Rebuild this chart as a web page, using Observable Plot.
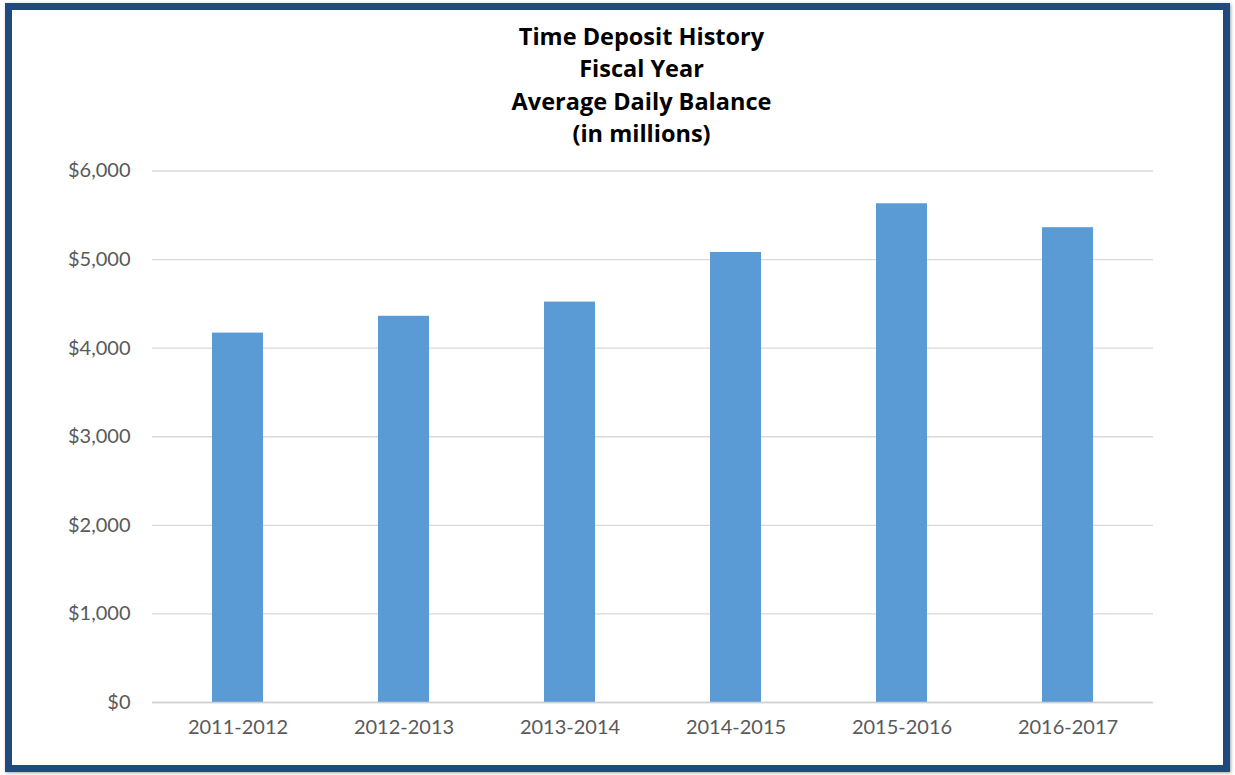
<!DOCTYPE html>
<html>
<head>
<meta charset="utf-8">
<script src="https://cdn.jsdelivr.net/npm/d3@7"></script>
<script src="https://cdn.jsdelivr.net/npm/@observablehq/plot@0.6"></script>
<style>
  html, body { margin: 0; padding: 0; background: #fff; }
  body { width: 1235px; height: 775px; position: relative; overflow: hidden; font-family: Lato, "Open Sans", sans-serif; }
  #frame { position: absolute; left: 5px; top: 3px; width: 1211px; height: 755px; border: 7px solid #1f4a7e; box-shadow: 1px 1px 3px rgba(0,0,0,0.35); }
  #title { position: absolute; left: 24px; top: 0; width: 1235px; text-align: center; font-family: "Open Sans", Lato, sans-serif; font-weight: bold; font-size: 23.5px; line-height: 32.3px; color: #000; padding-top: 20px; }
  #chart { position: absolute; left: 0; top: 150px; }
</style>
</head>
<body>
<div id="frame"></div>
<div id="title"></div>
<div id="chart"></div>
<script>
const titleLines = ["Time Deposit History", "Fiscal Year", "Average Daily Balance", "(in millions)"];
const years = ["2011-2012", "2012-2013", "2013-2014", "2014-2015", "2015-2016", "2016-2017"];
const balances = [4170, 4360, 4520, 5080, 5630, 5360];
const yTicks = [0, 1000, 2000, 3000, 4000, 5000, 6000];

document.getElementById("title").innerHTML = titleLines.map(t => `<div>${t}</div>`).join("");

const data = years.map((y, i) => ({year: y, value: balances[i]}));
const fmt = d => "$" + d3.format(",")(d);

const chart = Plot.plot({
  width: 1235,
  height: 610,
  marginLeft: 152,
  marginRight: 82,
  marginTop: 20.5,
  marginBottom: 58,
  style: { fontFamily: "Lato, 'Open Sans', sans-serif", fontSize: "20px", color: "#595959", background: "transparent" },
  x: { domain: years, paddingInner: 0.69, paddingOuter: 0.345, label: null },
  y: { domain: [0, 6000], ticks: yTicks, label: null },
  marks: [
    Plot.gridY(yTicks, { stroke: "#d9d9d9", strokeOpacity: 1, strokeWidth: 1.3 }),
    Plot.barY(data, { x: "year", y: "value", fill: "#5b9bd5" }),
    Plot.ruleY([0], { stroke: "#d0d0d0", strokeWidth: 1.3 }),
    Plot.axisY(yTicks, { tickSize: 0, tickPadding: 22, tickFormat: fmt, fill: "#595959", label: null }),
    Plot.axisX({ tickSize: 0, tickPadding: 17, fill: "#595959", label: null })
  ]
});
document.getElementById("chart").appendChild(chart);
</script>
</body>
</html>
